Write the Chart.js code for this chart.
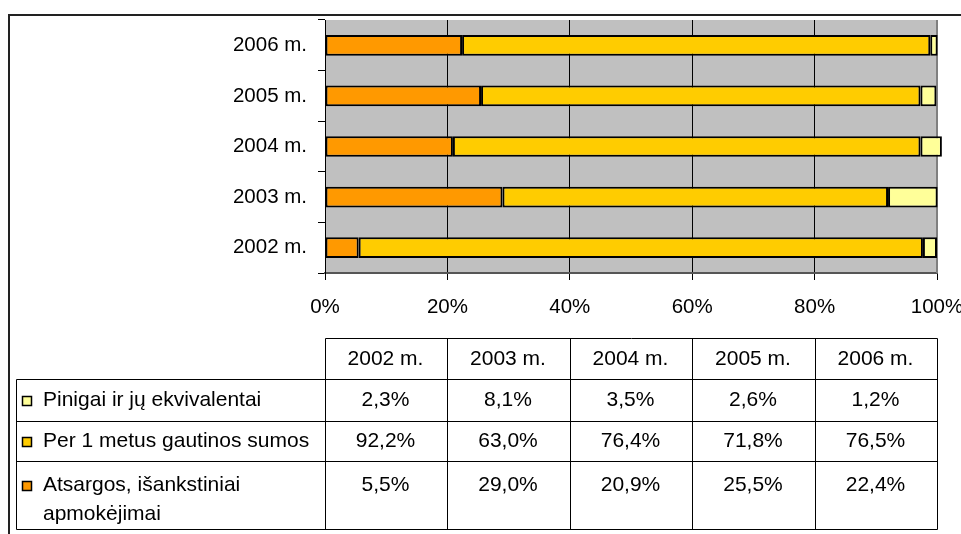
<!DOCTYPE html>
<html>
<head>
<meta charset="utf-8">
<script src="https://cdn.jsdelivr.net/npm/chart.js@4.4.0/dist/chart.umd.min.js"></script>
<style>
  body { margin: 0; background: #fff; }
</style>
</head>
<body>
<canvas id="chart" width="961" height="534"></canvas>
<script>
// data (shares of current assets, %)
var years = ["2002 m.", "2003 m.", "2004 m.", "2005 m.", "2006 m."];
var pinigai = [2.3, 8.1, 3.5, 2.6, 1.2];
var gautinos = [92.2, 63.0, 76.4, 71.8, 76.5];
var atsargos = [5.5, 29.0, 20.9, 25.5, 22.4];
var xTicks = [0, 20, 40, 60, 80, 100];

var namePinigai = ["Pinigai ir jų ekvivalentai"];
var nameGautinos = ["Per 1 metus gautinos sumos"];
var nameAtsargos = ["Atsargos, išankstiniai", "apmokėjimai"];

var colPinigai = "#ffff99";
var colGautinos = "#ffcc00";
var colAtsargos = "#ff9900";

var FONT = "'Liberation Sans', Arial, sans-serif";
Chart.defaults.font.family = FONT;
Chart.defaults.color = "#000";

function pct(v) {
    return v.toFixed(1).replace(".", ",") + "%";
}

// table rows, top to bottom
var tableRows = [
    { name: namePinigai, color: colPinigai, values: pinigai },
    { name: nameGautinos, color: colGautinos, values: gautinos },
    { name: nameAtsargos, color: colAtsargos, values: atsargos }
];

var plotDecor = {
    id: "plotDecor",
    beforeDraw: function (chart) {
        var ctx = chart.ctx, a = chart.chartArea;
        ctx.save();
        ctx.fillStyle = "#c0c0c0";
        ctx.fillRect(a.left, a.top, a.right - a.left, a.bottom - a.top);
        ctx.restore();
    },
    beforeDatasetsDraw: function (chart) {
        var ctx = chart.ctx, a = chart.chartArea;
        ctx.save();
        ctx.strokeStyle = "#808080";
        ctx.lineWidth = 2;
        ctx.beginPath();
        ctx.moveTo(a.right, a.top);
        ctx.lineTo(a.right, a.bottom);
        ctx.stroke();
        ctx.restore();
    },
    afterDraw: function (chart) {
        var ctx = chart.ctx, a = chart.chartArea;
        var sx = chart.scales.x;
        var cols = xTicks.map(function (v) { return Math.round(sx.getPixelForValue(v)) + 0.5; });
        var left = 16.5;
        var top = a.bottom + 65;
        var lines = [top, top + 41, top + 83, top + 123, top + 191].map(function (y) { return Math.round(y) + 0.5; });
        var right = cols[cols.length - 1];

        ctx.save();
        ctx.strokeStyle = "#000";
        ctx.lineWidth = 1;
        ctx.beginPath();
        // header top only over the year columns
        ctx.moveTo(cols[0], lines[0]); ctx.lineTo(right, lines[0]);
        for (var i = 1; i < lines.length; i++) {
            ctx.moveTo(left, lines[i]); ctx.lineTo(right, lines[i]);
        }
        ctx.moveTo(left, lines[1]); ctx.lineTo(left, lines[4]);
        for (var c = 0; c < cols.length; c++) {
            ctx.moveTo(cols[c], lines[0]); ctx.lineTo(cols[c], lines[4]);
        }
        ctx.stroke();

        ctx.fillStyle = "#000";
        ctx.font = "21px " + FONT;
        ctx.textBaseline = "middle";
        ctx.textAlign = "center";
        for (var k = 0; k < years.length; k++) {
            ctx.fillText(years[k], (cols[k] + cols[k + 1]) / 2 - 1, (lines[0] + lines[1]) / 2);
        }

        for (var r = 0; r < tableRows.length; r++) {
            var row = tableRows[r];
            var y0 = r < 2 ? (lines[r + 1] + lines[r + 2]) / 2 : lines[r + 1] + 24;
            // legend key
            ctx.fillStyle = row.color;
            ctx.fillRect(22, Math.round(y0) - 5, 10, 10);
            ctx.lineWidth = 1.5;
            ctx.strokeRect(22.5, Math.round(y0) - 4.5, 9, 9);
            ctx.fillStyle = "#000";
            ctx.textAlign = "left";
            for (var n = 0; n < row.name.length; n++) {
                ctx.fillText(row.name[n], 43, y0 + n * 29);
            }
            ctx.textAlign = "center";
            for (var k2 = 0; k2 < row.values.length; k2++) {
                ctx.fillText(pct(row.values[k2]), (cols[k2] + cols[k2 + 1]) / 2 - 1, y0);
            }
        }

        // outer frame (continues past the picture edges)
        ctx.strokeStyle = "#222";
        ctx.lineWidth = 2;
        ctx.beginPath();
        ctx.moveTo(9, chart.height);
        ctx.lineTo(9, 15);
        ctx.lineTo(chart.width, 15);
        ctx.stroke();
        ctx.restore();
    }
};

var barStyle = { borderColor: "#000", borderWidth: 2, borderSkipped: false, clip: false };

new Chart(document.getElementById("chart"), {
    type: "bar",
    data: {
        labels: years,
        datasets: [
            Object.assign({ label: nameAtsargos.join(" "), data: atsargos, backgroundColor: colAtsargos }, barStyle),
            Object.assign({ label: nameGautinos[0], data: gautinos, backgroundColor: colGautinos }, barStyle),
            Object.assign({ label: namePinigai[0], data: pinigai, backgroundColor: colPinigai }, barStyle)
        ]
    },
    options: {
        indexAxis: "y",
        responsive: false,
        animation: false,
        events: [],
        layout: { padding: { top: 20, right: 24, bottom: 211, left: 0 } },
        datasets: { bar: { categoryPercentage: 1, barPercentage: 0.41 } },
        plugins: { legend: { display: false }, tooltip: { enabled: false } },
        scales: {
            x: {
                stacked: true,
                min: 0,
                max: 100,
                afterBuildTicks: function (s) { s.ticks = xTicks.map(function (v) { return { value: v }; }); },
                afterFit: function (s) { s.height = 50; s.paddingLeft = 0; s.paddingRight = 0; },
                ticks: { font: { size: 20.5 }, padding: 15, maxRotation: 0, callback: function (v) { return v + "%"; } },
                grid: { color: "#000", lineWidth: 1, tickLength: 7 },
                border: { color: "#555", width: 2 }
            },
            y: {
                stacked: true,
                reverse: true,
                afterFit: function (s) { s.width = 325; s.paddingTop = 0; s.paddingBottom = 0; },
                ticks: { font: { size: 20.5 }, padding: 11 },
                grid: { drawOnChartArea: false, color: "#000", tickLength: 7 },
                border: { color: "#000", width: 1 }
            }
        }
    },
    plugins: [plotDecor]
});
</script>
</body>
</html>
